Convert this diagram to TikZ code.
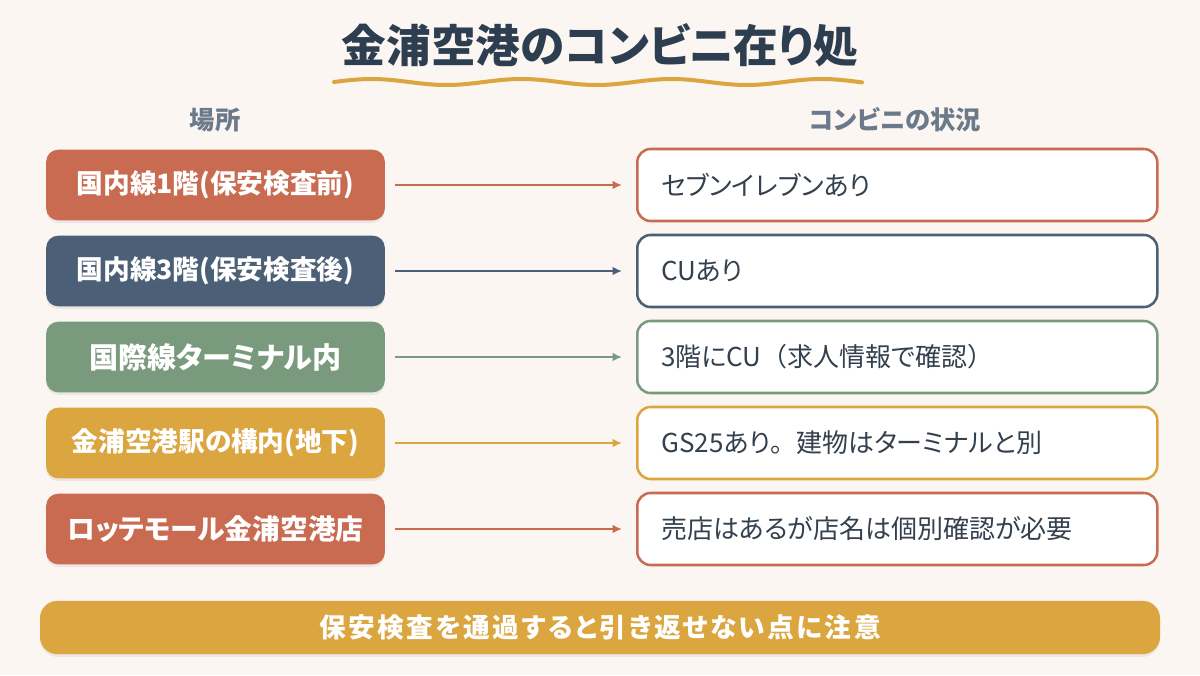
\documentclass[tikz,border=0pt]{standalone}
\usepackage{fontspec}
\setmainfont{Noto Sans CJK JP}[RawFeature=+palt]
\newfontfamily\widefont{Noto Sans CJK JP}
\usetikzlibrary{arrows.meta,shadows}

\definecolor{bgcream}{HTML}{FBF6F1}
\definecolor{terracotta}{HTML}{C96B51}
\definecolor{slate}{HTML}{4B5F77}
\definecolor{sage}{HTML}{7A9A7E}
\definecolor{mustard}{HTML}{DBA540}
\definecolor{titlenavy}{HTML}{2C3E50}
\definecolor{headgray}{HTML}{6B7A8A}
\definecolor{textnavy}{HTML}{34404E}

\begin{document}
\begin{tikzpicture}[x=0.75pt,y=-0.75pt,>=Latex,
  place/.style={rounded corners=9pt,minimum width=254pt,minimum height=53pt,text=white,
    font=\bfseries\fontsize{20}{24}\selectfont,
    drop shadow={opacity=0.12,shadow xshift=0pt,shadow yshift=-2pt}},
  state/.style={fill=white,rounded corners=10pt,line width=1.9pt,anchor=west,
    minimum width=390pt,minimum height=54pt,text width=354pt,inner xsep=18pt,align=left,
    text=textnavy,font=\fontsize{19.5}{23}\selectfont},
  head/.style={text=headgray,font=\bfseries\fontsize{19}{22}\selectfont},
  link/.style={-{Latex[length=7pt,width=6.5pt]},line width=1.5pt,shorten <=7.5pt,shorten >=10.5pt}]
% background and page size
\fill[bgcream] (0,0) rectangle (1200,675);
\useasboundingbox (0,0) rectangle (1200,675);

% title
\node[text=titlenavy,font=\bfseries\fontsize{33.5}{40}\selectfont] (title) at (600,45) {金浦空港のコンビニ在り処};
\draw[mustard,line width=3pt,line cap=round] plot[domain=0:528,samples=120] ({334+\x},{82-3*sin(2.4*\x)});

% column heads
\node[head] (headL) at (215,120) {場所};
\node[head] (headR) at (895,120) {コンビニの状況};

% places
\node[place,fill=terracotta] (l1) at (215.5,185) {国内線1階(保安検査前)};
\node[place,fill=slate] (l2) at (215.5,271) {国内線3階(保安検査後)};
\node[place,fill=sage,font=\bfseries\fontsize{21.8}{26}\selectfont] (l3) at (215.5,357) {国際線ターミナル内};
\node[place,fill=mustard] (l4) at (215.5,443) {金浦空港駅の構内(地下)};
\node[place,fill=terracotta,font=\bfseries\fontsize{20.8}{25}\selectfont] (l5) at (215.5,529) {ロッテモール金浦空港店};

% shops
\node[state,draw=terracotta] (r1) at (636,185) {セブンイレブンあり};
\node[state,draw=slate] (r2) at (636,271) {CUあり};
\node[state,draw=sage] (r3) at (636,357) {3階にCU{\widefont （}求人情報で確認{\widefont ）}};
\node[state,draw=mustard] (r4) at (636,443) {GS25あり{\widefont 。}建物はターミナルと別};
\node[state,draw=terracotta] (r5) at (636,529) {売店はあるが店名は個別確認が必要};

\draw[link,terracotta] (l1) -- (r1);
\draw[link,slate] (l2) -- (r2);
\draw[link,sage] (l3) -- (r3);
\draw[link,mustard] (l4) -- (r4);
\draw[link,terracotta] (l5) -- (r5);

% warning banner
\node[fill=mustard,rounded corners=13pt,minimum width=840pt,minimum height=40pt,text=white,
  font=\bfseries\fontsize{20}{24}\selectfont\addfontfeature{LetterSpace=9},
  drop shadow={opacity=0.12,shadow xshift=0pt,shadow yshift=-2pt}] (note) at (600,627.5)
  {保安検査を通過すると引き返せない点に注意};
\end{tikzpicture}
\end{document}
